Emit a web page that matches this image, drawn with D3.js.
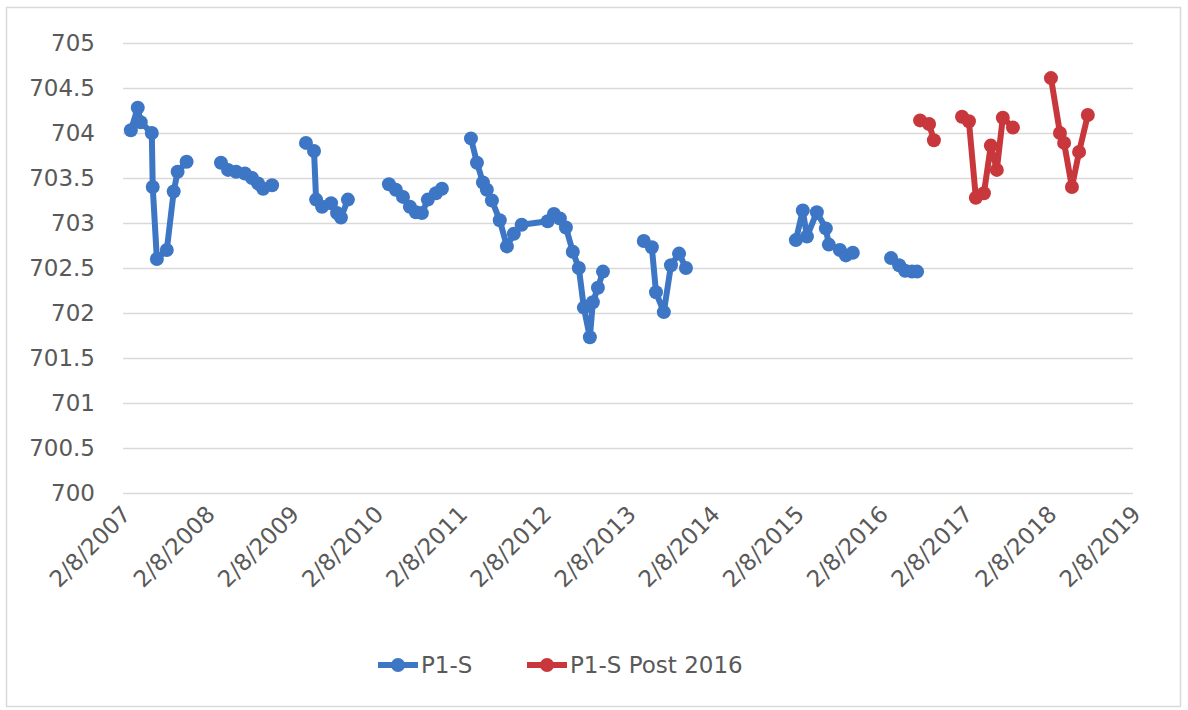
<!DOCTYPE html>
<html>
<head>
<meta charset="utf-8">
<script src="https://cdn.jsdelivr.net/npm/d3@7"></script>
<style>
  html, body { margin: 0; padding: 0; background: #fff; }
  svg { display: block; }
  text { font-family: "DejaVu Sans", sans-serif; fill: #595959; }
</style>
</head>
<body>
<svg id="chart" width="1188" height="710"></svg>
<script>
// ---------- DATA ----------
const seriesNames = ["P1-S", "P1-S Post 2016"];

const p1sDates = [
  "2007-03-14","2007-04-13","2007-04-26","2007-06-13","2007-06-17","2007-07-05","2007-08-17","2007-09-16","2007-10-03","2007-11-11", null,
  "2008-04-08","2008-05-09","2008-06-13","2008-07-21","2008-08-21","2008-09-16","2008-10-08","2008-11-16", null,
  "2009-04-12","2009-05-17","2009-05-26","2009-06-21","2009-07-30","2009-08-25","2009-09-11","2009-10-11", null,
  "2010-04-07","2010-05-07","2010-06-07","2010-07-07","2010-08-02","2010-08-28","2010-09-23","2010-10-28","2010-11-23", null,
  "2011-03-29","2011-04-24","2011-05-20","2011-06-06","2011-06-28","2011-08-01","2011-09-01","2011-10-01","2011-11-04",
  "2012-02-25","2012-03-23","2012-04-18","2012-05-14","2012-06-13","2012-07-09","2012-07-31","2012-08-26","2012-09-08","2012-09-30","2012-10-22", null,
  "2013-04-17","2013-05-22","2013-06-09","2013-07-13","2013-08-13","2013-09-17","2013-10-17", null,
  "2015-02-06","2015-03-08","2015-03-26","2015-05-08","2015-06-16","2015-06-29","2015-08-16","2015-09-11","2015-10-11", null,
  "2016-03-25","2016-04-29","2016-05-25","2016-06-24","2016-07-16"
];
const p1sValues = [
  704.03,704.28,704.12,704.00,703.40,702.60,702.70,703.35,703.57,703.68, null,
  703.67,703.59,703.57,703.55,703.50,703.44,703.38,703.42, null,
  703.89,703.80,703.26,703.18,703.22,703.11,703.06,703.26, null,
  703.43,703.37,703.29,703.18,703.12,703.11,703.26,703.33,703.38, null,
  703.94,703.67,703.45,703.37,703.25,703.03,702.74,702.88,702.98,
  703.02,703.10,703.05,702.95,702.68,702.50,702.06,701.73,702.12,702.28,702.46, null,
  702.80,702.73,702.23,702.01,702.53,702.66,702.50, null,
  702.81,703.14,702.85,703.12,702.94,702.76,702.70,702.64,702.67, null,
  702.61,702.53,702.47,702.46,702.46
];

const postDates = [
  "2016-07-29","2016-09-06","2016-09-27", null,
  "2017-01-27","2017-02-26","2017-03-28","2017-05-02","2017-06-01","2017-06-27","2017-07-23","2017-09-05", null,
  "2018-02-17","2018-03-28","2018-04-15","2018-05-19","2018-06-19","2018-07-27"
];
const postValues = [
  704.14,704.10,703.92, null,
  704.18,704.13,703.28,703.33,703.86,703.59,704.17,704.06, null,
  704.61,704.00,703.89,703.40,703.79,704.20
];

const xTickDates = ["2007-02-08","2008-02-08","2009-02-08","2010-02-08","2011-02-08","2012-02-08",
                    "2013-02-08","2014-02-08","2015-02-08","2016-02-08","2017-02-08","2018-02-08","2019-02-08"];
const xTickLabels = ["2/8/2007","2/8/2008","2/8/2009","2/8/2010","2/8/2011","2/8/2012",
                     "2/8/2013","2/8/2014","2/8/2015","2/8/2016","2/8/2017","2/8/2018","2/8/2019"];
const yTicks = [700,700.5,701,701.5,702,702.5,703,703.5,704,704.5,705];
const yTickLabels = ["700","700.5","701","701.5","702","702.5","703","703.5","704","704.5","705"];

// ---------- CHART ----------
const colors = ["#3d76c4", "#c8373c"];
const parse = d3.timeParse("%Y-%m-%d");
const svg = d3.select("#chart");

const plot = { left: 123, right: 1133, top: 43, bottom: 493 };

// outer border
svg.append("rect").attr("x", 6.5).attr("y", 7.5).attr("width", 1174).attr("height", 699)
  .attr("fill", "#fff").attr("stroke", "#d9d9d9").attr("stroke-width", 1.5);

const x = d3.scaleTime()
  .domain([parse(xTickDates[0]), parse(xTickDates[xTickDates.length - 1])])
  .range([plot.left, plot.right]);
const y = d3.scaleLinear().domain([700, 705]).range([plot.bottom, plot.top]);

// gridlines
const grid = svg.append("g").attr("transform", `translate(${plot.left},0)`)
  .call(d3.axisLeft(y).tickValues(yTicks).tickSize(-(plot.right - plot.left)).tickFormat(""));
grid.select(".domain").remove();
grid.selectAll(".tick line").attr("stroke", "#d9d9d9").attr("stroke-width", 1.5);

// y axis labels
const yAxis = svg.append("g").attr("transform", `translate(${plot.left - 28},0)`)
  .call(d3.axisLeft(y).tickValues(yTicks).tickSize(0).tickPadding(0)
    .tickFormat((d, i) => yTickLabels[i]));
yAxis.select(".domain").remove();
yAxis.selectAll("text").style("font-size", "23px").attr("fill", "#595959")
  .style("font-family", "DejaVu Sans, sans-serif");

// x axis labels, rotated -45deg with their end at the tick
const xAxis = svg.append("g").attr("transform", `translate(0,${plot.bottom})`)
  .call(d3.axisBottom(x).tickValues(xTickDates.map(parse)).tickSize(0)
    .tickFormat((d, i) => xTickLabels[i]));
xAxis.select(".domain").remove();
xAxis.selectAll(".tick text")
  .style("font-size", "23px").attr("fill", "#595959")
  .style("font-family", "DejaVu Sans, sans-serif")
  .attr("text-anchor", "end")
  .attr("x", 0).attr("y", 0).attr("dy", "0.35em")
  .attr("transform", "translate(3,17) rotate(-45)");

// series
function build(dates, values) {
  return dates.map((d, i) => ({ date: d ? parse(d) : null, value: values[i] }));
}
const series = [build(p1sDates, p1sValues), build(postDates, postValues)];

const line = d3.line()
  .defined(d => d.value != null && d.date != null)
  .x(d => x(d.date)).y(d => y(d.value));

series.forEach((data, si) => {
  const g = svg.append("g");
  g.append("path").datum(data).attr("d", line)
    .attr("fill", "none").attr("stroke", colors[si]).attr("stroke-width", 6)
    .attr("stroke-linejoin", "round").attr("stroke-linecap", "round");
  g.selectAll("circle").data(data.filter(d => d.value != null)).join("circle")
    .attr("cx", d => x(d.date)).attr("cy", d => y(d.value)).attr("r", 7)
    .attr("fill", colors[si]);
});

// legend
const legendY = 665;
const legendItems = [{ x: 378 }, { x: 527 }];
legendItems.forEach((it, i) => {
  const g = svg.append("g").attr("transform", `translate(${it.x},${legendY})`);
  g.append("line").attr("x1", 0).attr("x2", 40).attr("y1", 0).attr("y2", 0)
    .attr("stroke", colors[i]).attr("stroke-width", 6);
  g.append("circle").attr("cx", 20).attr("cy", 0).attr("r", 7).attr("fill", colors[i]);
  g.append("text").attr("x", 43).attr("y", 0).attr("dy", "0.35em")
    .style("font-size", "23px").text(seriesNames[i]);
});
</script>
</body>
</html>
